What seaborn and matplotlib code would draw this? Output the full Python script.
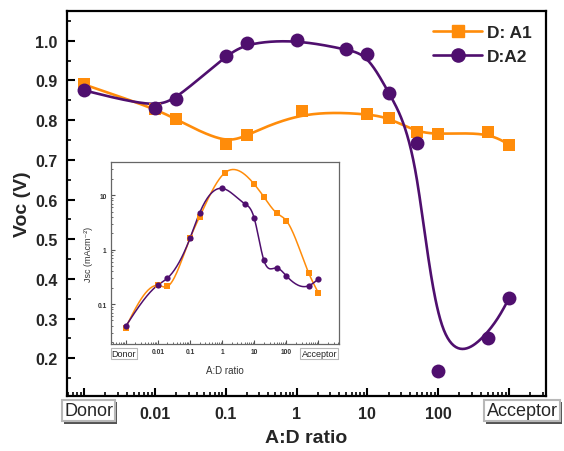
import numpy as np
import matplotlib
matplotlib.use("Agg")
import matplotlib.pyplot as plt
import matplotlib.ticker as mticker
import matplotlib.patheffects as pe
from matplotlib.lines import Line2D
import seaborn as sns

# ---- data -------------------------------------------------------------
# A:D ratio (0.001 stands for pure donor, 1000 for pure acceptor)
ratio_a1 = [0.001, 0.01, 0.02, 0.1, 0.2, 1.2, 10, 20, 50, 100, 500, 1000]
ratio_a2 = [0.001, 0.01, 0.02, 0.1, 0.2, 1, 5, 10, 20, 50, 100, 500, 1000]

voc_a1 = [0.890, 0.829, 0.802, 0.739, 0.762, 0.823, 0.816, 0.806, 0.770, 0.764, 0.770, 0.738]
voc_a2 = [0.875, 0.831, 0.853, 0.962, 0.995, 1.003, 0.978, 0.966, 0.869, 0.742, 0.168, 0.251, 0.351]

jsc_a1 = [0.037, 0.22, 0.211, 1.6, 4.0, 25.4, 15.9, 9.3, 4.7, 3.4, 0.37, 0.16]
jsc_a2 = [0.039, 0.223, 0.30, 1.6, 4.7, 13.3, 7.0, 3.8, 0.64, 0.46, 0.33, 0.217, 0.29]

series_names = ["D: A1", "D:A2"]
main_ticks = [0.01, 0.1, 1, 10, 100]
main_tick_labels = ["0.01", "0.1", "1", "10", "100"]
end_labels = ["Donor", "Acceptor"]

ORANGE = "#FF8C0A"
PURPLE = "#4F0F6E"


def bspline(px, py, n=40):
    """Uniform cubic B-spline with the points as control points (clamped ends)."""
    P = np.column_stack([px, py])
    P = np.vstack([P[0], P[0], P, P[-1], P[-1]])
    t = np.linspace(0, 1, n)
    b0 = (1 - t) ** 3 / 6
    b1 = (3 * t ** 3 - 6 * t ** 2 + 4) / 6
    b2 = (-3 * t ** 3 + 3 * t ** 2 + 3 * t + 1) / 6
    b3 = t ** 3 / 6
    out = []
    for i in range(len(P) - 3):
        seg = (b0[:, None] * P[i] + b1[:, None] * P[i + 1]
               + b2[:, None] * P[i + 2] + b3[:, None] * P[i + 3])
        out.append(seg)
    out = np.vstack(out)
    return out[:, 0], out[:, 1]


def natural_spline(x, y, n=30):
    """Natural cubic interpolating spline through (x, y)."""
    x = np.asarray(x, float)
    y = np.asarray(y, float)
    m = len(x)
    h = np.diff(x)
    A = np.zeros((m, m))
    r = np.zeros(m)
    A[0, 0] = A[-1, -1] = 1
    for i in range(1, m - 1):
        A[i, i - 1] = h[i - 1]
        A[i, i] = 2 * (h[i - 1] + h[i])
        A[i, i + 1] = h[i]
        r[i] = 6 * ((y[i + 1] - y[i]) / h[i] - (y[i] - y[i - 1]) / h[i - 1])
    M = np.linalg.solve(A, r)
    xs, ys = [], []
    for i in range(m - 1):
        tt = np.linspace(x[i], x[i + 1], n)
        a = (x[i + 1] - tt) / h[i]
        b = (tt - x[i]) / h[i]
        s = (a * y[i] + b * y[i + 1]
             + ((a ** 3 - a) * M[i] + (b ** 3 - b) * M[i + 1]) * h[i] ** 2 / 6)
        xs.append(tt)
        ys.append(s)
    return np.concatenate(xs), np.concatenate(ys)


sns.set_theme(style="ticks")
plt.rcParams["font.family"] = ["Liberation Sans", "DejaVu Sans"]

fig = plt.figure(figsize=(5.64, 4.52), dpi=100)
ax = fig.add_axes([0.1188, 0.1217, 0.849, 0.8518])
ax.set_xscale("log")
ax.set_xlim(10 ** -3.24, 10 ** 3.52)
ax.set_ylim(0.105, 1.075)

# ---- main panel: Voc --------------------------------------------------
for xs, ys, col, mk, sz in [(ratio_a1, voc_a1, ORANGE, "s", 63),
                            (ratio_a2, voc_a2, PURPLE, "o", 100)]:
    cx, cy = bspline(np.log10(xs), ys)
    sns.lineplot(x=10 ** cx, y=cy, sort=False, estimator=None, color=col,
                 lw=1.9, ax=ax, zorder=2)
    sns.scatterplot(x=xs, y=ys, marker=mk, s=sz, color=col, edgecolor=col,
                    linewidth=0, ax=ax, zorder=3)

ax.set_xticks([0.001] + main_ticks + [1000])
ax.set_xticklabels([""] + main_tick_labels + [""])
ax.xaxis.set_minor_locator(mticker.LogLocator(base=10, subs=np.arange(2, 10), numticks=20))
ax.xaxis.set_minor_formatter(mticker.NullFormatter())
ax.yaxis.set_major_locator(mticker.MultipleLocator(0.1))
ax.yaxis.set_minor_locator(mticker.MultipleLocator(0.05))
ax.yaxis.set_major_formatter(mticker.FormatStrFormatter("%.1f"))
ax.tick_params(which="major", direction="in", length=6, width=1.5, color="black",
               labelsize=11.5, pad=7)
ax.tick_params(which="minor", direction="in", length=3, width=1.2, color="black")
for lab in ax.get_xticklabels() + ax.get_yticklabels():
    lab.set_fontweight("bold")
for sp in ax.spines.values():
    sp.set_visible(True)
    sp.set_linewidth(1.6)
    sp.set_color("black")

ax.set_xlabel("A:D ratio", fontsize=14, fontweight="bold", labelpad=6)
ax.set_ylabel("Voc (V)", fontsize=14, fontweight="bold", labelpad=3)

shadow = [pe.withSimplePatchShadow(offset=(1.5, -1.5), shadow_rgbFace="#555555", alpha=1.0)]
for txt, xpos in zip(end_labels, [0.157, 0.9255]):
    t = fig.text(xpos, 0.089, txt, ha="center", va="center", fontsize=13,
                 bbox=dict(boxstyle="square,pad=0.12", fc="white", ec="#b8b8b8", lw=1.5))
    t.get_bbox_patch().set_path_effects(shadow)

handles = [Line2D([], [], color=ORANGE, lw=1.9, marker="s", ms=8),
           Line2D([], [], color=PURPLE, lw=1.9, marker="o", ms=9.5)]
leg = ax.legend(handles, series_names, loc="upper right", frameon=False,
                prop=dict(size=12.5, weight="bold"), handlelength=2.8,
                handletextpad=0.3, labelspacing=0.5, borderaxespad=0.4)

# ---- inset: Jsc -------------------------------------------------------
ins = fig.add_axes([0.1963, 0.2367, 0.4053, 0.402])
ins.set_facecolor("white")
ins.set_xscale("log")
ins.set_yscale("log")
ins.set_xlim(10 ** -3.466, 10 ** 3.65)
ins.set_ylim(0.0185, 40)

for xs, ys, col, mk in [(ratio_a1, jsc_a1, ORANGE, "s"),
                        (ratio_a2, jsc_a2, PURPLE, "o")]:
    cx, cy = natural_spline(np.log10(xs), np.log10(ys))
    sns.lineplot(x=10 ** cx, y=10 ** cy, sort=False, estimator=None, color=col,
                 lw=1.1, ax=ins, zorder=2)
    sns.scatterplot(x=xs, y=ys, marker=mk, s=20, color=col, edgecolor=col,
                    linewidth=0, ax=ins, zorder=3)

ins.set_xticks([0.001] + main_ticks + [1000])
ins.set_xticklabels([""] + main_tick_labels + [""])
ins.xaxis.set_minor_locator(mticker.LogLocator(base=10, subs=np.arange(2, 10), numticks=20))
ins.xaxis.set_minor_formatter(mticker.NullFormatter())
ins.set_yticks([0.1, 1, 10])
ins.set_yticklabels(["0.1", "1", "10"])
ins.yaxis.set_minor_locator(mticker.LogLocator(base=10, subs=np.arange(2, 10), numticks=20))
ins.yaxis.set_minor_formatter(mticker.NullFormatter())
ins.tick_params(which="major", direction="in", length=3, width=0.8, color="#555555",
                labelsize=4.8, labelcolor="#333333", pad=3)
ins.tick_params(which="minor", direction="in", length=1.6, width=0.6, color="#555555")
for lab in ins.get_xticklabels() + ins.get_yticklabels():
    lab.set_fontweight("bold")
for sp in ins.spines.values():
    sp.set_visible(True)
    sp.set_linewidth(0.9)
    sp.set_color("#666666")

ins.set_xlabel("A:D ratio", fontsize=7, color="#333333", labelpad=7)
ins.set_ylabel("Jsc (mAcm⁻²)", fontsize=6.5, color="#333333", labelpad=3)

for txt, xpos in zip(end_labels, [124 / 564, 319.3 / 564]):
    t = fig.text(xpos, 1 - 354.7 / 452, txt, ha="center", va="center", fontsize=6.5,
                 color="#222222",
                 bbox=dict(boxstyle="square,pad=0.12", fc="white", ec="#b8b8b8", lw=0.8))
    t.get_bbox_patch().set_path_effects(
        [pe.withSimplePatchShadow(offset=(0.8, -0.8), shadow_rgbFace="#777777", alpha=1.0)])

fig.savefig("out.png", dpi=100)
